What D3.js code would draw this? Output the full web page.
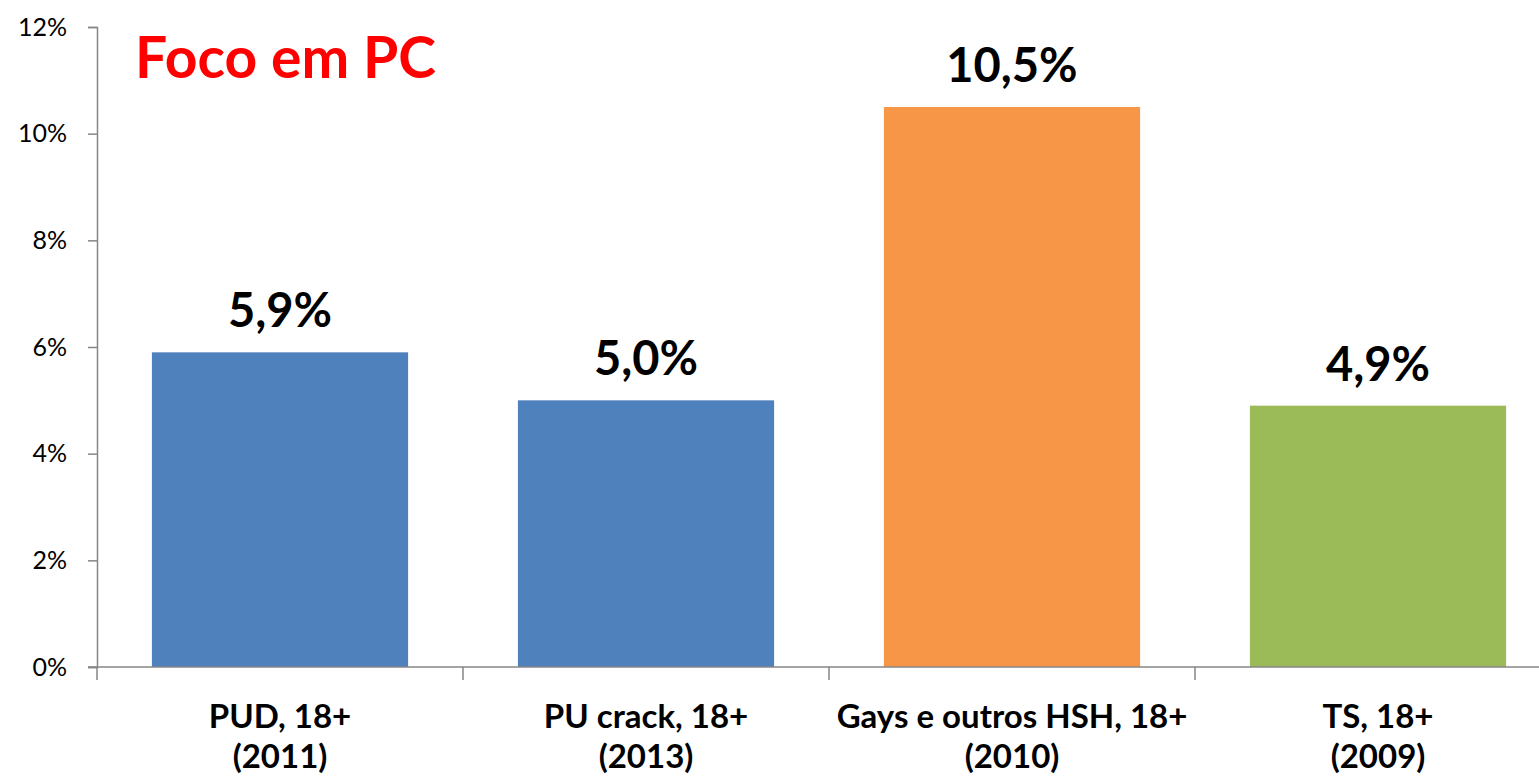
<!DOCTYPE html>
<html>
<head>
<meta charset="utf-8">
<script src="https://cdn.jsdelivr.net/npm/d3@7"></script>
<style>
  body { margin: 0; background: #fff; }
  svg { display: block; font-family: Lato, "Open Sans", sans-serif; }
</style>
</head>
<body>
<div id="chart"></div>
<script>
// chart size
const F_WIDTH = 1539;
const F_HEIGHT = 779;
const MARGINS = {left: 97, top: 27, bottom: 112};

// data
const CATEGORIES = ["PUD, 18+|(2011)", "PU crack, 18+|(2013)", "Gays e outros HSH, 18+|(2010)", "TS, 18+|(2009)"];
const VALUES = [0.059, 0.050, 0.105, 0.049];
const LABELS = ["5,9%", "5,0%", "10,5%", "4,9%"];
const COLORS = ["#4F81BD", "#4F81BD", "#F79646", "#9BBB59"];
const Y_TICKS = [0, 0.02, 0.04, 0.06, 0.08, 0.10, 0.12];

const STEP = 366;
const BASE_Y = F_HEIGHT - MARGINS.bottom;

const FRAME = d3.select("#chart")
  .append("svg")
    .attr("width", F_WIDTH)
    .attr("height", F_HEIGHT);

const X_SCALE = d3.scaleBand()
  .domain(CATEGORIES)
  .range([MARGINS.left, MARGINS.left + STEP * CATEGORIES.length])
  .paddingInner(0.3)
  .paddingOuter(0.15);

const Y_SCALE = d3.scaleLinear()
  .domain([0, 0.12])
  .range([BASE_Y, MARGINS.top]);

// y axis
const yAxis = FRAME.append("g")
  .attr("transform", "translate(" + MARGINS.left + ",0)")
  .call(d3.axisLeft(Y_SCALE).tickValues(Y_TICKS).tickSize(9).tickPadding(21)
    .tickFormat(d => Math.round(d * 100) + "%"));
yAxis.select(".domain").attr("stroke", "#868686").attr("stroke-width", 1.5);
yAxis.selectAll(".tick line").attr("stroke", "#868686").attr("stroke-width", 1.5);
yAxis.selectAll(".tick text")
  .attr("font-size", 25)
  .attr("font-family", "Lato, sans-serif")
  .attr("fill", "#000");

// bars
FRAME.selectAll(".bar")
  .data(VALUES)
  .enter()
  .append("rect")
    .attr("class", "bar")
    .attr("x", (d, i) => X_SCALE(CATEGORIES[i]))
    .attr("width", X_SCALE.bandwidth())
    .attr("y", d => Y_SCALE(d))
    .attr("height", d => BASE_Y - Y_SCALE(d))
    .attr("fill", (d, i) => COLORS[i]);

// x axis line and boundary ticks
const bounds = d3.range(CATEGORIES.length + 1).map(i => X_SCALE.range()[0] + i * X_SCALE.step());
FRAME.append("line")
  .attr("x1", MARGINS.left - 9).attr("x2", F_WIDTH)
  .attr("y1", BASE_Y).attr("y2", BASE_Y)
  .attr("stroke", "#868686").attr("stroke-width", 1.5);
FRAME.selectAll(".xtick")
  .data(bounds)
  .enter()
  .append("line")
    .attr("class", "xtick")
    .attr("x1", d => d).attr("x2", d => d)
    .attr("y1", BASE_Y).attr("y2", BASE_Y + 13)
    .attr("stroke", "#868686").attr("stroke-width", 1.5);

// category labels (two lines)
const cats = FRAME.selectAll(".cat")
  .data(CATEGORIES)
  .enter()
  .append("text")
    .attr("class", "cat")
    .attr("text-anchor", "middle")
    .attr("font-size", 33)
    .attr("font-weight", "bold")
    .attr("fill", "#000");
cats.each(function(d) {
  const parts = d.split("|");
  const cx = X_SCALE(d) + X_SCALE.bandwidth() / 2;
  d3.select(this).selectAll("tspan")
    .data(parts)
    .enter()
    .append("tspan")
      .attr("x", cx)
      .attr("y", (p, j) => 728 + j * 40)
      .text(p => p);
});

// value labels
FRAME.selectAll(".val")
  .data(VALUES)
  .enter()
  .append("text")
    .attr("class", "val")
    .attr("x", (d, i) => X_SCALE(CATEGORIES[i]) + X_SCALE.bandwidth() / 2)
    .attr("y", d => Y_SCALE(d) - 25)
    .attr("text-anchor", "middle")
    .attr("font-size", 47)
    .attr("font-weight", "bold")
    .attr("fill", "#000")
    .text((d, i) => LABELS[i]);

// title
FRAME.append("text")
  .attr("x", 135)
  .attr("y", 78)
  .attr("font-size", 57)
  .attr("font-weight", "bold")
  .attr("fill", "#FF0000")
  .text("Foco em PC");
</script>
</body>
</html>
